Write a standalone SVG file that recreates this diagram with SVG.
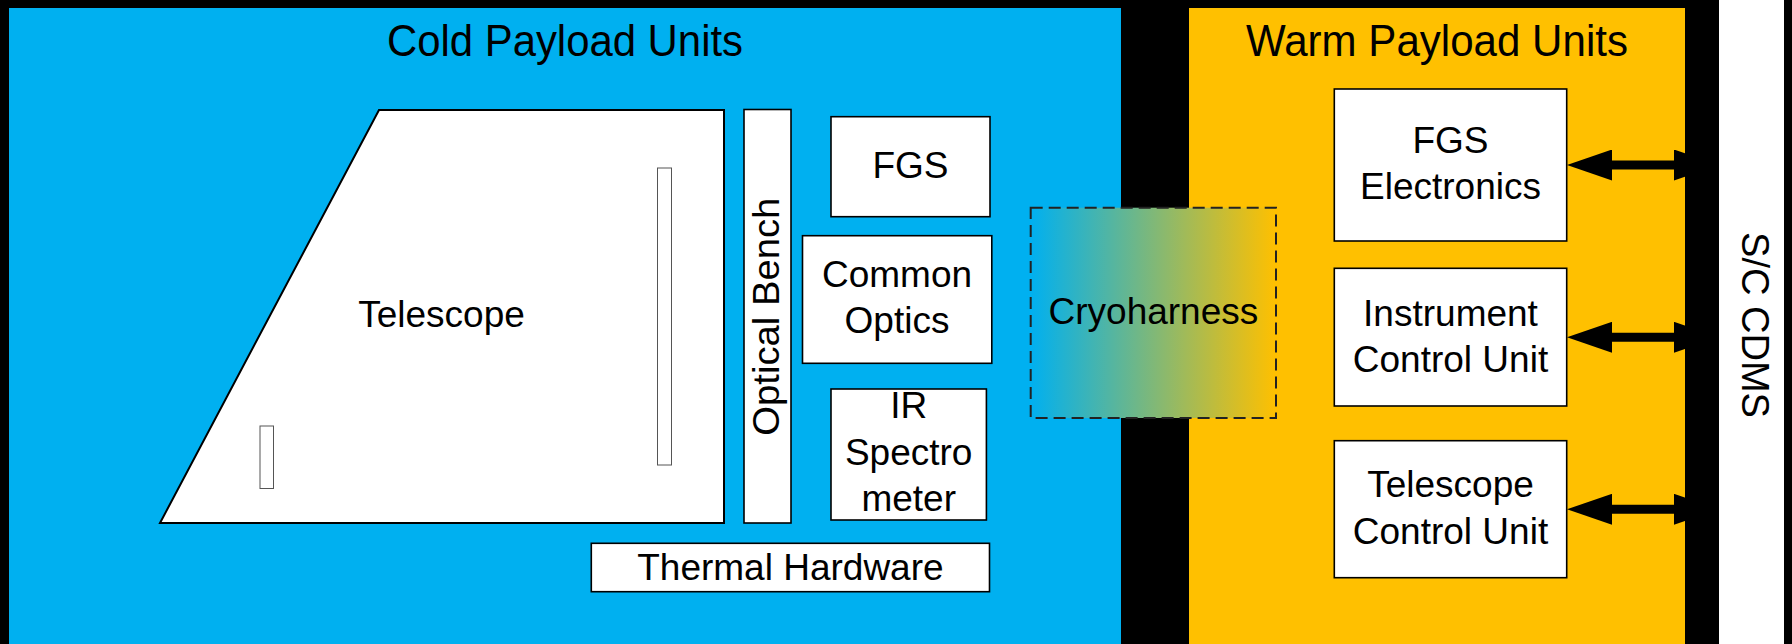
<svg xmlns="http://www.w3.org/2000/svg" width="1792" height="644" viewBox="0 0 1792 644">
  <style>
    text { font-family: "Liberation Sans", Arial, sans-serif; fill: #000; }
    .t { font-size: 37px; text-anchor: middle; }
    .title { font-size: 44px; text-anchor: middle; }
    .box { fill: #fff; stroke: #000; stroke-width: 1.6; }
    .mirror { fill: #fff; stroke: #555; stroke-width: 1; }
    .conn { stroke: #000; stroke-width: 9; fill: none; }
  </style>
  <defs>
    <linearGradient id="cryoGrad" x1="0" y1="0" x2="1" y2="0">
      <stop offset="0" stop-color="#00B0F0"/>
      <stop offset="1" stop-color="#FFC000"/>
    </linearGradient>
    <marker id="head" viewBox="0 0 45 31" markerUnits="userSpaceOnUse" markerWidth="45" markerHeight="31" refX="2" refY="15.5" orient="auto-start-reverse">
      <path d="M0,0 L45,15.5 L0,31 Z" fill="#000"/>
    </marker>
  </defs>

  <g id="background">
    <rect x="0" y="0" width="1792" height="644" fill="#fff"/>
    <rect x="0" y="0" width="1719" height="644" fill="#000"/>
    <rect x="1784" y="0" width="8" height="644" fill="#000"/>
  </g>

  <g id="cold-payload">
    <rect x="9" y="8" width="1112" height="636" fill="#00B0F0"/>
    <text class="title" x="565" y="56" textLength="356" lengthAdjust="spacingAndGlyphs">Cold Payload Units</text>
  </g>

  <g id="warm-payload">
    <rect x="1189" y="8" width="496" height="636" fill="#FFC000"/>
    <text class="title" x="1437" y="56" textLength="382" lengthAdjust="spacingAndGlyphs">Warm Payload Units</text>
  </g>

  <g id="sc-cdms">
    <text class="t" transform="translate(1742,325) rotate(90)" x="0" y="0" style="font-size:38px">S/C CDMS</text>
  </g>

  <g id="telescope">
    <path d="M379,110 L724,110 L724,523 L160,523 Z" fill="#fff" stroke="#000" stroke-width="2" stroke-linejoin="miter"/>
    <rect class="mirror" x="657.5" y="168" width="14" height="297"/>
    <rect class="mirror" x="260" y="426" width="13.5" height="62.5"/>
    <text class="t" x="441.5" y="327">Telescope</text>
  </g>

  <g id="optical-bench">
    <rect class="box" x="744" y="109.5" width="47" height="413.5"/>
    <text class="t" transform="translate(779,316.7) rotate(-90)" x="0" y="0" textLength="238" lengthAdjust="spacingAndGlyphs">Optical Bench</text>
  </g>

  <g id="fgs">
    <rect class="box" x="831" y="116.7" width="159" height="100"/>
    <text class="t" x="910.5" y="178.3">FGS</text>
  </g>

  <g id="common-optics">
    <rect class="box" x="802.5" y="235.7" width="189.3" height="127.6"/>
    <text class="t" x="897" y="287.3">Common</text>
    <text class="t" x="897" y="333.3">Optics</text>
  </g>

  <g id="ir-spectrometer">
    <rect class="box" x="831" y="389" width="155.4" height="131"/>
    <text class="t" x="908.7" y="418.3">IR</text>
    <text class="t" x="908.7" y="465">Spectro</text>
    <text class="t" x="908.7" y="510.7">meter</text>
  </g>

  <g id="thermal-hardware">
    <rect class="box" x="591.3" y="543.3" width="398.2" height="48.4"/>
    <text class="t" x="790.4" y="580">Thermal Hardware</text>
  </g>

  <g id="cryoharness">
    <rect x="1030.7" y="207.7" width="245.3" height="210.3" fill="url(#cryoGrad)" stroke="#222" stroke-width="2" stroke-dasharray="12 6"/>
    <text class="t" x="1153.4" y="324">Cryoharness</text>
  </g>

  <g id="fgs-electronics">
    <rect class="box" x="1334.3" y="89" width="232.4" height="152"/>
    <text class="t" x="1450.5" y="153">FGS</text>
    <text class="t" x="1450.5" y="199">Electronics</text>
  </g>

  <g id="instrument-control-unit">
    <rect class="box" x="1334.3" y="268.3" width="232.4" height="137.7"/>
    <text class="t" x="1450.5" y="325.7">Instrument</text>
    <text class="t" x="1450.5" y="371.7">Control Unit</text>
  </g>

  <g id="telescope-control-unit">
    <rect class="box" x="1334.3" y="440.7" width="232.4" height="137"/>
    <text class="t" x="1450.5" y="496.7">Telescope</text>
    <text class="t" x="1450.5" y="544">Control Unit</text>
  </g>

  <g id="connectors">
    <line class="conn" x1="1610" y1="165" x2="1676" y2="165" marker-start="url(#head)" marker-end="url(#head)"/>
    <line class="conn" x1="1610" y1="337.3" x2="1676" y2="337.3" marker-start="url(#head)" marker-end="url(#head)"/>
    <line class="conn" x1="1610" y1="509.3" x2="1676" y2="509.3" marker-start="url(#head)" marker-end="url(#head)"/>
  </g>

  <g id="cdms-bar">
    <rect x="1685" y="0" width="34" height="644" fill="#000"/>
  </g>
</svg>
